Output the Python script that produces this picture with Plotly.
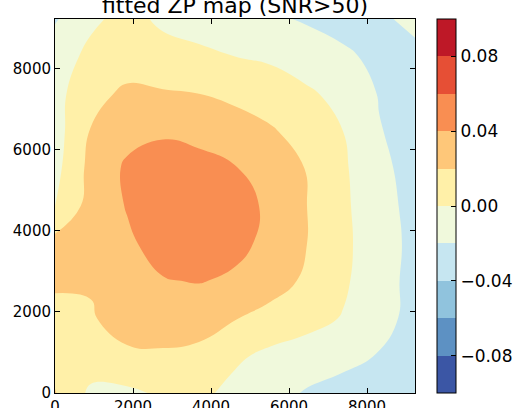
import plotly.graph_objects as go

# Grid coordinates (pixels on detector)
x_vals = [0, 923, 1846, 2769, 3692, 4615, 5538, 6461, 7384, 8307, 9230]
y_vals = [0, 923, 1846, 2769, 3692, 4615, 5538, 6461, 7384, 8307, 9230]

# Fitted ZP values, one row per y value (bottom to top)
zp_row_00 = [0.021, -0.004, -0.004, 0.003, 0.004, -0.005, -0.012, -0.022, -0.026, -0.027, -0.027]
zp_row_01 = [0.012, 0.012, 0.018, 0.018, 0.016, 0.003, -0.004, -0.008, -0.015, -0.021, -0.026]
zp_row_02 = [0.016, 0.019, 0.025, 0.028, 0.027, 0.021, 0.012, 0.006, -0.001, -0.011, -0.028]
zp_row_03 = [0.022, 0.021, 0.030, 0.039, 0.041, 0.037, 0.030, 0.016, 0.003, -0.012, -0.026]
zp_row_04 = [0.027, 0.030, 0.037, 0.047, 0.050, 0.045, 0.035, 0.020, 0.005, -0.013, -0.024]
zp_row_05 = [0.000, 0.028, 0.041, 0.050, 0.052, 0.048, 0.036, 0.020, 0.004, -0.014, -0.025]
zp_row_06 = [-0.006, 0.026, 0.043, 0.047, 0.047, 0.041, 0.033, 0.019, 0.003, -0.016, -0.026]
zp_row_07 = [-0.008, 0.021, 0.034, 0.038, 0.034, 0.028, 0.022, 0.012, 0.000, -0.019, -0.027]
zp_row_08 = [-0.007, 0.015, 0.023, 0.022, 0.020, 0.016, 0.010, 0.003, -0.006, -0.021, -0.025]
zp_row_09 = [-0.008, 0.004, 0.012, 0.006, 0.004, 0.000, -0.003, -0.010, -0.017, -0.024, -0.023]
zp_row_10 = [-0.022, -0.003, 0.005, -0.003, -0.008, -0.012, -0.017, -0.022, -0.026, -0.022, -0.017]
zp_grid = [zp_row_00, zp_row_01, zp_row_02, zp_row_03, zp_row_04, zp_row_05,
           zp_row_06, zp_row_07, zp_row_08, zp_row_09, zp_row_10]

axis_ticks = [0, 2000, 4000, 6000, 8000]
cbar_ticks = [-0.08, -0.04, 0.00, 0.04, 0.08]
level_min, level_max, level_step = -0.1, 0.1, 0.02

# RdYlBu_r sampled at band centres (10 bands between -0.1 and 0.1)
band_colors = ["rgb(59,86,165)", "rgb(93,145,195)", "rgb(144,195,221)",
               "rgb(198,230,241)", "rgb(240,249,220)", "rgb(255,240,168)",
               "rgb(254,199,121)", "rgb(249,142,82)", "rgb(230,79,53)",
               "rgb(190,24,39)"]
n = len(band_colors)

# colorscale for the contour fill (plotly samples fills at level + size/2 on [-0.11, 0.11])
contour_scale = []
for i, c in enumerate(band_colors):
    lo = 0.0 if i == 0 else (i + 0.5) / (n + 1)
    hi = 1.0 if i == n - 1 else (i + 1.5) / (n + 1)
    contour_scale.append([lo, c])
    contour_scale.append([hi, c])

# stepped colorscale for the colorbar spanning exactly [-0.1, 0.1]
bar_scale = []
for i, c in enumerate(band_colors):
    bar_scale.append([i / n, c])
    bar_scale.append([(i + 1) / n, c])

FONT = "DejaVu Sans"

fig = go.Figure()
fig.add_trace(go.Contour(
    x=x_vals, y=y_vals, z=zp_grid,
    autocontour=False,
    contours=dict(start=level_min, end=level_max, size=level_step,
                  coloring="fill", showlines=False),
    line=dict(width=0, smoothing=1.3),
    colorscale=contour_scale,
    showscale=False,
    hoverinfo="skip",
))

# colorbar carrier
fig.add_trace(go.Scatter(
    x=[None], y=[None], mode="markers",
    marker=dict(
        color=[0], cmin=level_min, cmax=level_max, colorscale=bar_scale,
        showscale=True,
        colorbar=dict(
            x=(437 - 55) / 360, xanchor="left", xpad=0,
            y=0.5, yanchor="middle", ypad=0,
            len=1, lenmode="fraction", thickness=19, thicknessmode="pixels",
            outlinewidth=1, outlinecolor="black",
            tickvals=cbar_ticks, tickformat=".2f",
            ticks="inside", ticklen=5, tickcolor="black",
            tickfont=dict(family=FONT, size=17, color="black"),
        ),
    ),
    showlegend=False, hoverinfo="skip",
))

axis_common = dict(
    range=[0, 9230], tickvals=axis_ticks, ticks="inside", ticklen=5,
    tickcolor="black", showline=True, linecolor="black", linewidth=1,
    mirror="ticks", showgrid=False, zeroline=False, automargin=False,
    tickfont=dict(family=FONT, size=15, color="black"),
)
fig.update_xaxes(**axis_common)
fig.update_yaxes(**axis_common)

fig.update_layout(
    width=518, height=408,
    margin=dict(l=55, r=103, t=19, b=15, autoexpand=False),
    paper_bgcolor="white", plot_bgcolor="white",
    title=dict(text="fitted ZP map (SNR>50)", x=0.5, xref="paper", xanchor="center",
               y=0.987, yref="container", yanchor="middle",
               font=dict(family=FONT, size=22, color="black")),
    showlegend=False,
)

fig.write_html("out.html")
